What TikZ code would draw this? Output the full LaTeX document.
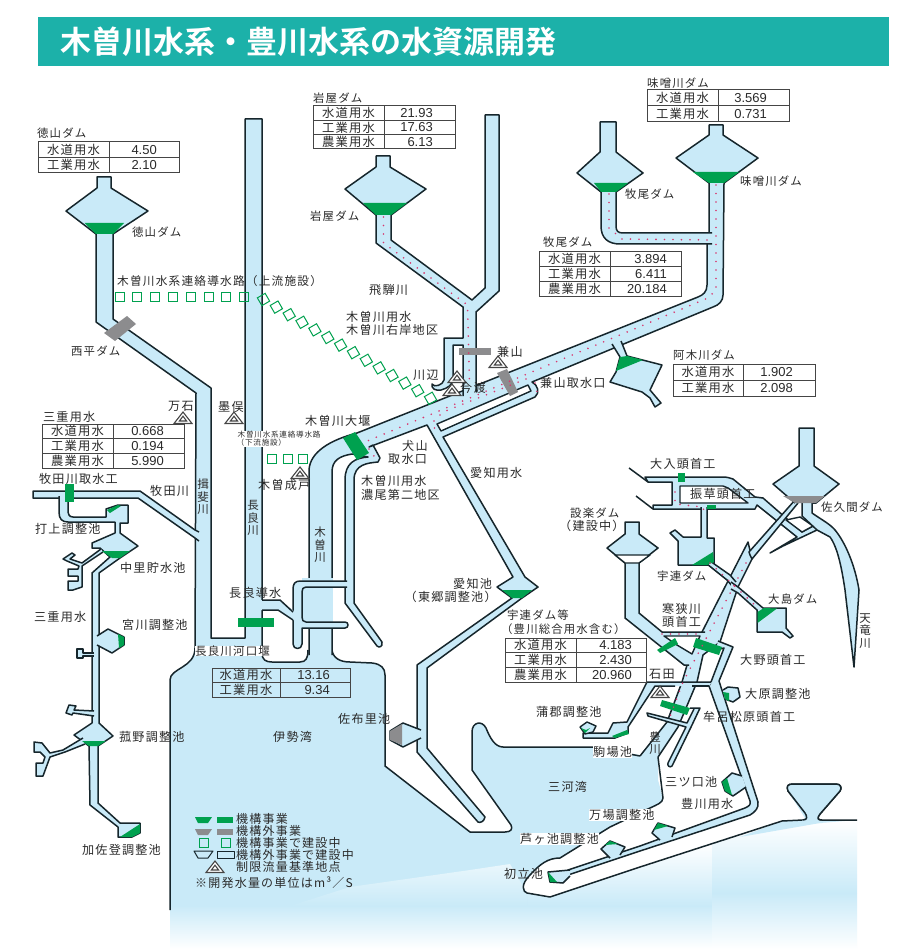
\documentclass[tikz,border=0pt]{standalone}
\usepackage{fontspec}
\setmainfont{Noto Sans CJK JP}[LetterSpace=10]
\newfontfamily\titlef{Noto Sans CJK JP Bold}
\newfontfamily\numf{Liberation Sans}
\usetikzlibrary{calc}
\definecolor{water}{HTML}{C9EAF8}
\definecolor{ink}{HTML}{16262C}
\definecolor{jgreen}{HTML}{00A14F}
\definecolor{jgrey}{HTML}{8C8C8E}
\definecolor{teal}{HTML}{1CB1A9}
\definecolor{pink}{HTML}{D8376E}
\definecolor{tabline}{HTML}{454545}
\definecolor{txt}{HTML}{2A2A2A}
\tikzset{
  tube/.style={fill=water,draw=ink,line width=1.5pt,line join=round},
  wfill/.style={fill=water},
  edge/.style={draw=ink,line width=1.5pt,line join=round},
  isle/.style={fill=white,draw=ink,line width=1.4pt,line join=round},
  gbar/.style={fill=jgreen},
  gybar/.style={fill=jgrey},
  dots/.style={draw=pink,line width=1.8pt,line cap=round,dash pattern=on 0pt off 8.5pt},
  hsq/.style={draw=jgreen,line width=1pt,minimum size=9pt,inner sep=0pt,shape=rectangle},
  lbl/.style={anchor=west,inner sep=0pt,text=txt,font=\fontsize{12.1}{14}\selectfont},
  dam/.style={font=\fontsize{11.4}{14}\selectfont},
  leg/.style={font=\fontsize{12}{14}\selectfont},
  vl/.style={anchor=center,inner sep=0pt,text=txt,font=\fontsize{11.5}{12.5}\selectfont,align=center},
  cell/.style={anchor=center,inner sep=0pt,text=txt,font=\fontsize{12.3}{14}\selectfont},
  val/.style={anchor=east,inner sep=0pt,text=txt,font=\numf\fontsize{13}{14}\selectfont},
  tabl/.style={draw=tabline,line width=1pt},
  trimark/.style={draw=tabline,line width=1.1pt,fill=white,line join=miter}
}
% label: name x y text
\newcommand\lb[5][]{\node[lbl,#1] (#2) at (#3,#4) {#5};}
\newcommand\vlb[4]{\node[vl] (#1) at (#2,#3) {#4};}
% limit-flow triangle
\newcommand\trim[2]{%
  \draw[trimark] (#1-9,#2+5.5) -- (#1,#2-6) -- (#1+9,#2+5.5) -- cycle;
  \draw[trimark] (#1-3.6,#2+3) -- (#1,#2-1.8) -- (#1+3.6,#2+3) -- cycle;}
% table 2 rows: name x1 xm x2 y1 y2 xr v1 v2
\newcommand\tabii[9]{%
  \draw[tabl] (#2,#5) rectangle (#4,#6);
  \draw[tabl] (#3,#5) -- (#3,#6);
  \draw[tabl] (#2,{(#5+#6)/2}) -- (#4,{(#5+#6)/2});
  \node[cell] (#1a) at ({(#2+#3)/2},{#5+(#6-#5)*0.25}) {水道用水};
  \node[cell] (#1b) at ({(#2+#3)/2},{#5+(#6-#5)*0.75}) {工業用水};
  \node[val] (#1c) at (#7,{#5+(#6-#5)*0.25}) {#8};
  \node[val] (#1d) at (#7,{#5+(#6-#5)*0.75}) {#9};}
% table 3 rows: third value in \thirdval
\newcommand\tabiii[9]{%
  \draw[tabl] (#2,#5) rectangle (#4,#6);
  \draw[tabl] (#3,#5) -- (#3,#6);
  \draw[tabl] (#2,{#5+(#6-#5)/3}) -- (#4,{#5+(#6-#5)/3});
  \draw[tabl] (#2,{#5+(#6-#5)*2/3}) -- (#4,{#5+(#6-#5)*2/3});
  \node[cell] (#1a) at ({(#2+#3)/2},{#5+(#6-#5)/6}) {水道用水};
  \node[cell] (#1b) at ({(#2+#3)/2},{#5+(#6-#5)/2}) {工業用水};
  \node[cell] (#1e) at ({(#2+#3)/2},{#5+(#6-#5)*5/6}) {農業用水};
  \node[val] (#1c) at (#7,{#5+(#6-#5)/6}) {#8};
  \node[val] (#1d) at (#7,{#5+(#6-#5)/2}) {#9};
  \node[val] (#1f) at (#7,{#5+(#6-#5)*5/6}) {\thirdval};}
\begin{document}
\begin{tikzpicture}[x=1pt,y=-1pt]
\useasboundingbox (0,0) rectangle (900,949);
\fill[white] (0,0) rectangle (900,949);
% title
\fill[teal] (38,17) rectangle (889,66);
\node[anchor=west,inner sep=0pt,text=white,font=\titlef\fontsize{31}{33}\selectfont] (title) at (60,42) {木曽川水系・豊川水系の水資源開発};
% sea gradients
\shade[top color=water,bottom color=white] (170,905) rectangle (712,949);
\shade[top color=water,bottom color=white] (712,893) rectangle (857,949);
\begin{scope}
\clip (712,843) -- (782,821) -- (857,820) -- (857,893) -- (712,893) -- cycle;
\shade[top color=white,bottom color=water] (712,820) rectangle (857,893);
\end{scope}
\begin{scope}
\clip (527,893) -- (550,897) -- (712,843) -- (712,906) -- (527,906) -- cycle;
\shade[top color=white,bottom color=water] (527,843) rectangle (712,906);
\end{scope}
\fill[water] (740,837) -- (782,821) -- (857,820) -- (820,823) -- cycle;
% sea body
\fill[water] (170,906) -- (170,680) .. controls (170,668) and (195,668) .. (195,648) -- (262,640)
  -- (262,653) .. controls (262,660) and (266,662) .. (272,662) -- (300,662) .. controls (306,662) and (308,658) .. (308,650)
  -- (332,650) .. controls (333,658) and (340,662) .. (350,662) -- (372,663) .. controls (381,664) and (385,668) .. (385,675)
  -- (385,766) -- (470,832) -- (505,832) .. controls (511,832) and (513,829) .. (511,825) -- (472,770) -- (472,732)
  .. controls (472,722) and (482,720) .. (486,728) .. controls (490,738) and (495,747) .. (503,747) -- (592,747) -- (640,755) -- (658,755)
  -- (658,780) -- (663,798) .. controls (663,803) and (656,805) .. (650,808) -- (610,827) -- (560,858)
  .. controls (548,858) and (540,864) .. (530,875) .. controls (520,885) and (523,892) .. (527,893) -- (527,906) -- cycle;
\begin{scope}
\clip (350,887) -- (470,870) -- (510,864) -- (527,893) -- (527,906) -- (290,906) -- cycle;
\shade[top color=white!60!water,bottom color=water] (280,864) rectangle (527,906);
\end{scope}
% sea outlines
\draw[edge] (170,910) -- (170,680) .. controls (170,668) and (195,668) .. (195,648);
\draw[edge] (262,653) .. controls (262,660) and (266,662) .. (272,662) -- (300,662) .. controls (306,662) and (308,658) .. (308,650);
\draw[edge] (332,650) .. controls (333,658) and (340,662) .. (350,662) -- (372,663) .. controls (381,664) and (385,668) .. (385,675)
  -- (385,766) -- (470,832) -- (505,832) .. controls (511,832) and (513,829) .. (511,825) -- (472,770) -- (472,732)
  .. controls (472,722) and (482,720) .. (486,728) .. controls (490,738) and (495,747) .. (503,747) -- (592,747) -- (640,756);
\draw[edge] (658,757) -- (663,798) .. controls (663,803) and (656,805) .. (650,808) -- (610,827) -- (560,858) .. controls (548,858) and (540,864) .. (530,875) .. controls (520,885) and (523,892) .. (527,893)
  -- (550,897) -- (640,867) -- (782,821) -- (803,820) .. controls (808,820) and (807,816) .. (805,813) -- (788,791)
  .. controls (786,786) and (788,784) .. (793,784) -- (836,784) .. controls (841,784) and (842,788) .. (840,791)
  -- (820,814) .. controls (817,818) and (817,820) .. (822,820) -- (857,820);
\fill[water] (805,818) -- (788,791) .. controls (786,786) and (788,784) .. (793,784) -- (836,784) .. controls (841,784) and (842,788) .. (840,791)
  -- (820,814) .. controls (817,818) and (817,820) .. (822,823) -- (800,823) -- cycle;
\draw[edge] (803,820) .. controls (808,820) and (807,816) .. (805,813) -- (788,791)
  .. controls (786,786) and (788,784) .. (793,784) -- (836,784) .. controls (841,784) and (842,788) .. (840,791)
  -- (820,814) .. controls (817,818) and (817,820) .. (822,820);
% ---- Ibi + Tokuyama + Nagara
\path[tube] (195,652) -- (196,393) -- (96,322) -- (96,234) -- (66,211) -- (97,188) -- (97,177) -- (111,177) -- (111,188) -- (148,211) -- (113,234)
  -- (113,319) -- (211,388) -- (211,638) -- (245,638) -- (245,119) -- (262,119) -- (262,653);
% Makita
\path[tube] (199,532) -- (195,530) -- (140,491) -- (33,491) -- (33,498) -- (138,498) -- (195,538) -- (199,541);
% Mie system
\path[tube] (59,496) -- (59,512) .. controls (59,519) and (62,522) .. (68,522) -- (115,522) -- (115,533) -- (92,543) -- (92,548) -- (100,548) -- (110,557)
  -- (92,573) -- (92,723) -- (74,735) -- (89,746) -- (90,805) -- (118,827) -- (118,837) -- (132,837) -- (140,833) -- (140,823) -- (120,823) -- (98,803)
  -- (98,746) -- (113,736) -- (99,723) -- (99,573) -- (120,558) -- (138,546) -- (120,533) -- (120,523) -- (128,523) -- (128,505) -- (118,505) -- (106,509) -- (106,517)
  -- (73,517) .. controls (69,517) and (68,514) .. (68,510) -- (68,496);
\path[tube] (101,549) -- (82,563) -- (70,559) -- (75,555) -- (72,553) -- (63,559) -- (67,561) -- (79,566) -- (78,569) -- (68,569) -- (68,576) -- (78,576) -- (78,581) -- (68,581) -- (68,590) -- (73,590) -- (82,587) -- (82,566) -- (103,552);
\path[tube] (97,636) -- (108,629) -- (124,637) -- (124,645) -- (112,653) -- (97,645);
\path[tube] (94,653) -- (83,653) -- (83,649) -- (77,649) -- (77,658) -- (83,658) -- (83,656) -- (94,656);
\path[tube] (94,711) -- (74,710) -- (76,706) -- (69,705) -- (66,713) -- (72,715) -- (73,713) -- (94,716);
\path[tube] (83,738) -- (63,750) -- (50,753) -- (42,743) -- (34,742) -- (34,752) -- (40,752) -- (45,757) -- (43,763) -- (36,763) -- (36,776) -- (43,776) -- (50,757) -- (65,752) -- (85,744);
% ---- Kiso / Aichi / Misogawa main body
\path[tube] (309,655) -- (309,470) .. controls (310,452) and (330,440) .. (357,433) -- (698,297) .. controls (703,295) and (707,292) .. (707,285)
  -- (707,244) -- (709,233) -- (709,183) -- (676,158) -- (709,135) -- (709,125) -- (723,125) -- (723,135) -- (758,158) -- (724,183)
  -- (723,295) .. controls (723,301) and (719,305) .. (713,307) -- (532,382) .. controls (538,385) and (540,393) .. (535,397) -- (443,437)
  -- (525,577) -- (538,587) -- (522,598) -- (427,668) -- (427,748) -- (485,817) .. controls (484,822) and (480,823) .. (478,822) -- (417,752) -- (417,665) -- (512,598)
  -- (497,587) -- (513,577) -- (427,425) -- (369,447) -- (373,445) -- (380,458) -- (378,462) .. controls (368,463) and (354,464) .. (354,480) -- (354,603)
  -- (382,642) .. controls (383,647) and (379,648) .. (377,646) -- (345,603) -- (345,480) .. controls (345,463) and (355,458) .. (368,457)
  -- (352,454) .. controls (340,456) and (332,460) .. (332,472) -- (332,655);
\path[tube] (712,244) -- (620,244) .. controls (608,244) and (601,238) .. (601,226) -- (601,192) -- (577,173) -- (600,152) -- (600,122) -- (616,122) -- (616,152) -- (643,173) -- (616,192)
  -- (616,226) .. controls (616,231) and (618,233) .. (623,233) -- (712,233);
\path[tube] (476,392) -- (476,312) -- (499,291) -- (499,115) -- (485,115) -- (485,288) -- (472,300) -- (391,240) -- (391,215) -- (426,189) -- (390,167) -- (390,156) -- (376,156) -- (376,167) -- (345,189) -- (376,215) -- (376,243)
  -- (463,307) -- (463,338) -- (444,338) -- (444,380) .. controls (443,385) and (434,388) .. (432,384) .. controls (431,389) and (436,391) .. (441,390) .. controls (448,388) and (453,385) .. (453,378)
  -- (453,345) -- (463,345) -- (463,396);
\path[tube] (612,344) -- (620,357) -- (616,372) -- (610,382) -- (642,392) -- (650,398) -- (655,407) -- (661,403) -- (650,390) -- (662,365) -- (627,356) -- (621,341);
\draw[isle] (437,424) -- (528,385) -- (531,391) -- (441,431) -- cycle;
\path[tube] (421,730) -- (403,723) -- (390,731) -- (390,740) -- (403,747) -- (421,738);
% Nagara canal tube over Kiso
\fill[water] (302,578) rectangle (333,624);
\path[tube] (347,581) -- (300,581) .. controls (295,581) and (293,584) .. (293,589) -- (293,644) .. controls (293,650) and (302,650) .. (302,644) -- (302,628) -- (345,628)
  .. controls (349,628) and (349,622) .. (345,622) -- (306,622) .. controls (303,622) and (302,620) .. (302,617) -- (302,592) .. controls (302,589) and (303,587) .. (306,587) -- (347,587);
\fill[water] (258,600) -- (280,600) -- (295,612) -- (295,621) -- (278,610) -- (258,610) -- cycle;
\draw[edge] (262,600) -- (280,600) -- (293,612);
\draw[edge] (262,610) -- (278,610) -- (293,620);
% ---- Toyokawa upper network
\path[tube] (813,526) -- (802,532) -- (763,498) -- (755,497) -- (733,479) .. controls (730,478) and (727,477) .. (723,477) -- (645,477) -- (648,482) -- (672,482) -- (672,505) -- (653,505) -- (653,509) -- (755,509) -- (757,505) -- (797,537) -- (770,553) -- (783,546) -- (817,530);
\draw[edge] (629,468) -- (648,482);
\draw[edge] (636,496) -- (653,509);
\draw[isle] (680,486) -- (723,486) -- (728,488) -- (748,503) -- (680,503) -- cycle;
\draw[isle] (786,520) -- (800,517) -- (813,526) -- (802,532) -- cycle;
% Ure dam
\path[tube] (701,507) -- (701,537) -- (683,537) -- (675,530) -- (670,533) -- (678,541) -- (678,565) -- (714,565) -- (714,538) -- (707,538) -- (707,507);
% Toyokawa main
\path[tube] (640,756) -- (667,722) -- (682,682) -- (690,655) -- (702,632) -- (728,581) -- (748,542) -- (752,559) -- (738,587) -- (720,642) -- (703,655) -- (697,682) -- (678,727) -- (658,757);
% tube from Sakuma to main
\path[tube] (795,500) -- (749,552) -- (750,555) -- (752,559) -- (798,503);
% Sakuma + Tenryu
\path[tube] (795,503) -- (773,484) -- (799,466) -- (799,428) -- (814,428) -- (814,466) -- (839,484) -- (816,503) -- (812,503) -- (812,513) .. controls (822,520) and (830,524) .. (835,530) .. controls (845,542) and (855,565) .. (859,590) -- (854,667) -- (845,590) .. controls (842,570) and (838,548) .. (830,537) -- (817,530) -- (802,516) -- (802,503);
% Ure-Oshima tubes
\path[tube] (736,582) -- (730,575) -- (710,561) -- (707,564) -- (727,580) -- (733,587);
\path[tube] (731,582) -- (738,587) -- (763,608) -- (786,608) -- (786,628) -- (793,636) -- (790,638) -- (782,632) -- (757,632) -- (757,610) -- (738,593) -- (731,589);
% Shitara
\path[tube] (705,632) -- (662,632) -- (639,613) -- (639,563) -- (658,548) -- (639,534) -- (639,522) -- (625,522) -- (625,534) -- (607,548) -- (625,563) -- (625,618) -- (684,665) -- (689,665);
\draw[isle] (664,636) -- (700,636) -- (692,654) -- (677,645) -- cycle;
\draw[isle] (615,555) -- (650,555) -- (639,563) -- (625,563) -- cycle;
% Toyokawa yosui
\path[tube] (718,641) -- (733,647) -- (719,681) -- (758,802) .. controls (759,808) and (755,812) .. (750,815) -- (640,851) -- (568,875) -- (568,870) -- (640,846) -- (745,808) .. controls (749,806) and (751,805) .. (750,801) -- (709,686) -- (711,682) -- (724,648) -- (716,650);
\fill[water] (712,682) -- (647,682) -- (627,722) -- (613,723) -- (608,733) -- (583,733) -- (583,738) -- (615,738) -- (628,733) -- (628,727) -- (655,686) -- (709,686) -- cycle;
\draw[edge] (711,682) -- (647,682) -- (627,722) -- (613,723) -- (608,733) -- (583,733) -- (583,738) -- (615,738) -- (628,733) -- (628,727) -- (655,686) -- (675,686);
\draw[edge] (692,686) -- (709,686);
\path[tube] (690,708) -- (700,708) -- (692,725) -- (672,766) .. controls (670,768) and (667,766) .. (668,763) -- (686,727) -- (648,716) -- (647,713) -- (687,723) -- (694,709);
% ponds on Yosui
\path[tube] (723,690) -- (728,687) -- (738,688) -- (740,697) -- (733,702) -- (725,699);
\path[tube] (742,776) -- (732,773) -- (722,782) -- (725,791) -- (733,796) -- (746,787);
\path[tube] (660,840) -- (652,833) -- (658,823) -- (675,828) -- (672,837);
\path[tube] (610,858) -- (601,849) -- (610,841) -- (625,847) -- (620,855);
\path[tube] (570,870) -- (548,872) -- (550,882) -- (563,883) -- (570,876);
\draw[isle,fill=water] (580,727) -- (587,722) -- (596,726) -- (593,732) -- (585,734) -- cycle;
% ---- green and grey structures
\fill[gbar] (84.5,223) -- (124,223) -- (113,234) -- (96,234) -- cycle;
\fill[gbar] (363,203) -- (407,203) -- (391,215) -- (376,215) -- cycle;
\fill[gbar] (594,183) -- (628,183) -- (616,192) -- (601,192) -- cycle;
\fill[gbar] (693,172) -- (739,172) -- (724,183) -- (709,183) -- cycle;
\fill[gbar] (502,590) -- (532,590) -- (522,598) -- (512,598) -- cycle;
\fill[gbar] (102,551) -- (130,551) -- (120,558) -- (112,558) -- cycle;
\fill[gbar] (82,741) -- (106,741) -- (98,746) -- (89,746) -- cycle;
\fill[gbar] (120,837) -- (140,824) -- (140,833) -- (132,837) -- cycle;
\fill[gbar] (118,634) -- (124,637) -- (124,645) -- (119,648) -- cycle;
\fill[gbar] (107,510) -- (118,505) -- (121,506) -- (110,513) -- cycle;
\fill[gbar] (65,484) rectangle (74,502);
\fill[gbar] (238,618) rectangle (274,627);
\fill[gbar] (343,438) -- (355,432) -- (369,453) -- (357,460) -- cycle;
\fill[gbar] (616,371) -- (620,357) -- (627,356) -- (643,360) -- cycle;
\fill[gbar] (678,473) rectangle (685,482);
\fill[gbar] (707,505) rectangle (716,509);
\fill[gbar] (692,565) -- (713,552) -- (714,562) -- (707,565) -- cycle;
\fill[gbar] (757.5,612) -- (764,608) -- (777,608.5) -- (757.5,623) -- cycle;
\fill[gbar] (657,650) -- (675,638) -- (678,644) -- (660,653) -- cycle;
\fill[gbar] (696,638) -- (722,647) -- (719,655) -- (693,647) -- cycle;
\fill[gbar] (662,700) -- (690,708) -- (687,715) -- (660,706) -- cycle;
\fill[gbar] (612,736) -- (627,730) -- (629,734) -- (615,738) -- cycle;
\fill[gbar] (581,728) -- (586,730) -- (590,728) -- (585,733) -- cycle;
\fill[gbar] (723,692) -- (729,693) -- (729,701) -- (725,699) -- cycle;
\fill[gbar] (722,782) -- (727,778) -- (732,795) -- (725,791) -- cycle;
\fill[gbar] (654,830) -- (658,823) -- (668,826) -- cycle;
\fill[gbar] (605,845) -- (610,841) -- (618,844) -- cycle;
\fill[gbar] (548,872) -- (557,882) -- (550,882) -- cycle;
\fill[gybar] (104,333) -- (127,316) -- (136,324) -- (115,341) -- cycle;
\fill[gybar] (459,347.5) rectangle (491,355);
\fill[gybar] (497,373) -- (507,369) -- (518,392) -- (510,396) -- cycle;
\fill[gybar] (783,496) -- (825,496) -- (816,503) -- (795,503) -- cycle;
\fill[gybar] (390,731) -- (402,724) -- (402,745) -- (390,740) -- cycle;
% ---- pink dots
\draw[dots] (383.5,217) -- (383.5,243) -- (467.5,305) -- (469.5,384);
\draw[dots] (716,185) -- (716,290) -- (708,298) -- (365,442);
\draw[dots] (609,194) -- (609,228) -- (622,239) -- (712,240);
\draw[dots] (526,379) -- (443,412) -- (432,423) -- (438,435);
\draw[dots] (369,449) -- (376,459);
\draw[dots] (535,383) -- (537,392);
\draw[dots] (746,563) -- (683,682) -- (668,722);
\draw[dots] (710,563) -- (757,607);
\draw[dots] (675,492) -- (675,504) -- (703,507) -- (705,516);
\draw[dots] (662,634) -- (700,634);
% ---- squares
\foreach \i in {0,...,7} \node[hsq] (up\i) at ({119.5+\i*17.8},296.5) {};
\foreach \i in {0,...,13} \node[hsq,rotate=30] (dg\i) at ({263.5+\i*12.85},{299.5+\i*7.6}) {};
\foreach \i/\xx in {0/272,1/287.5,2/303} \node[hsq] (lo\i) at (\xx,459) {};
% ---- triangles
\trim{183}{418}\trim{234}{418}\trim{300}{473}\trim{660}{692}\trim{457}{377}\trim{452}{390}\trim{498}{362}
% ---- tables
\lb[dam]{ttoku}{37}{133}{徳山ダム}
\tabii{tb1}{38}{109}{179}{142}{173}{157}{4.50}{2.10}
\lb{tmie}{43}{417}{三重用水}
\def\thirdval{5.990}
\tabiii{tb2}{42}{113}{184}{424}{468}{164}{0.668}{0.194}
\lb[dam]{tiwa}{313}{98}{岩屋ダム}
\def\thirdval{6.13}
\tabiii{tb3}{313}{384}{455}{106}{149}{433}{21.93}{17.63}
\lb[dam]{tmiso}{647}{83}{味噌川ダム}
\tabii{tb4}{647}{718}{789}{90}{122}{767}{3.569}{0.731}
\lb[dam]{tmak}{543}{242}{牧尾ダム}
\def\thirdval{20.184}
\tabiii{tb5}{539}{610}{681}{252}{296}{667}{3.894}{6.411}
\lb[dam]{takg}{673}{355}{阿木川ダム}
\tabii{tb6}{673}{743}{815}{364}{396}{793}{1.902}{2.098}
\lb[dam]{ture}{507}{615}{宇連ダム等}
\lb[dam]{tureb}{501}{629}{（豊川総合用水含む）}
\def\thirdval{20.960}
\tabiii{tb7}{505}{576}{646}{638}{682}{632}{4.183}{2.430}
\tabii{tb8}{212}{280}{350}{668}{697}{330}{13.16}{9.34}
% ---- labels
\lb[dam]{a1}{132}{232}{徳山ダム}
\lb[font=\fontsize{11.7}{14}\selectfont]{a2}{117}{281}{木曽川水系連絡導水路（上流施設）}
\lb[dam]{a3}{71}{351}{西平ダム}
\lb{a4}{168}{406}{万石}
\lb{a5}{218}{407}{墨俣}
\node[anchor=west,inner sep=0.5pt,fill=white,text=txt,font=\fontsize{7.6}{9.5}\selectfont] (a6) at (237,435) {木曽川水系連絡導水路};
\node[anchor=west,inner sep=0.5pt,fill=white,text=txt,font=\fontsize{7.6}{9.5}\selectfont] (a7) at (236,442.5) {（下流施設）};
\lb{a8}{39}{479}{牧田川取水工}
\lb{a9}{150}{491}{牧田川}
\vlb{a10}{203}{497}{揖\\斐\\川}
\vlb{a11}{253}{518}{長\\良\\川}
\lb{a12}{258}{485}{木曽成戸}
\lb{a13}{35}{529}{打上調整池}
\lb{a14}{120}{568}{中里貯水池}
\lb{a15}{34}{617}{三重用水}
\lb{a16}{122}{625}{宮川調整池}
\lb{a17}{229}{593}{長良導水}
\lb[fill=white,font=\fontsize{11.5}{14}\selectfont]{a18}{195}{651}{長良川河口堰}
\lb{a19}{119}{737}{菰野調整池}
\lb{a20}{82}{850}{加佐登調整池}
\lb{a21}{273}{737}{伊勢湾}
\lb{a22}{338}{719}{佐布里池}
\lb[dam]{a23}{310}{216}{岩屋ダム}
\lb{a24}{369}{290}{飛騨川}
\lb{a25}{346}{317}{木曽川用水}
\lb{a26}{346}{330}{木曽川右岸地区}
\lb{a27}{413}{375}{川辺}
\lb{a28}{460}{388}{今渡}
\lb{a29}{497}{352}{兼山}
\lb{a30}{540}{383}{兼山取水口}
\lb[dam]{a31}{625}{194}{牧尾ダム}
\lb[dam]{a32}{740}{181}{味噌川ダム}
\lb{a33}{305}{421}{木曽川大堰}
\lb{a34}{402}{446}{犬山}
\lb{a35}{388}{459}{取水口}
\lb{a36}{361}{481}{木曽川用水}
\lb{a37}{361}{495}{濃尾第二地区}
\lb{a38}{470}{473}{愛知用水}
\vlb{a39}{320}{545}{木\\曽\\川}
\lb{a40}{453}{584}{愛知池}
\lb{a41}{404.5}{597}{（東郷調整池）}
\lb[dam]{a42}{570}{513}{設楽ダム}
\lb{a43}{559}{526}{（建設中）}
\lb{a44}{650}{464}{大入頭首工}
\lb{a45}{690}{494}{振草頭首工}
\lb[dam]{a46}{821}{507}{佐久間ダム}
\lb[dam]{a47}{657}{576}{宇連ダム}
\lb[dam]{a48}{768}{599}{大島ダム}
\vlb{a49}{865}{631}{天\\竜\\川}
\lb{a50}{662}{609}{寒狭川}
\lb{a51}{662}{622}{頭首工}
\lb{a52}{740}{660}{大野頭首工}
\lb{a53}{649}{674}{石田}
\lb{a54}{745}{694}{大原調整池}
\lb{a55}{703}{717}{牟呂松原頭首工}
\lb{a56}{536}{712}{蒲郡調整池}
\lb[fill=white]{a57}{593}{752}{駒場池}
\vlb{a58}{655}{743}{豊\\川}
\lb{a59}{548}{787}{三河湾}
\lb{a60}{665}{782}{三ツ口池}
\lb{a61}{681}{804}{豊川用水}
\lb[fill=white]{a62}{589}{815}{万場調整池}
\lb[fill=white]{a63}{520}{839}{芦ヶ池調整池}
\lb{a64}{504}{874}{初立池}
% ---- legend
\fill[gbar] (195,817) -- (212,817) -- (208,823) -- (198,823) -- cycle;
\fill[gbar] (217,817) rectangle (233,823);
\fill[gybar] (195,829) -- (212,829) -- (208,835) -- (198,835) -- cycle;
\fill[gybar] (217,829) rectangle (233,835);
\node[hsq] (lg1) at (204,842.5) {};
\node[hsq] (lg2) at (226,842.5) {};
\draw[edge,line width=1pt] (194,851) -- (213,851) -- (208,858) -- (198,858) -- cycle;
\draw[edge,line width=1pt] (217,851) rectangle (234,858);
\trim{215}{867}
\lb[leg]{l1}{236}{819}{機構事業}
\lb[leg]{l2}{236}{831}{機構外事業}
\lb[leg]{l3}{236}{843}{機構事業で建設中}
\lb[leg]{l4}{236}{855}{機構外事業で建設中}
\lb[leg]{l5}{236}{867}{制限流量基準地点}
\lb[leg]{l6}{195}{883}{※開発水量の単位はm³／S}
\end{tikzpicture}
\end{document}
